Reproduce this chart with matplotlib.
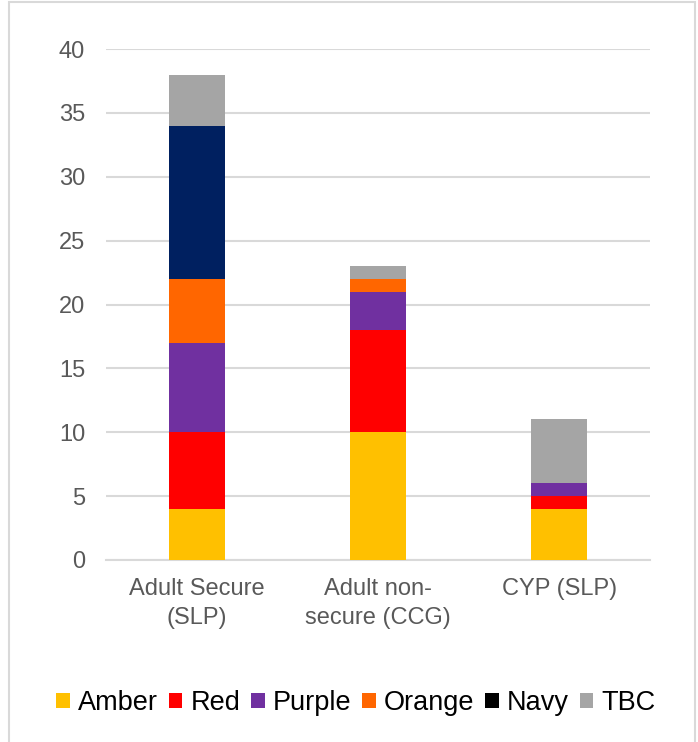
import numpy as np
import matplotlib
matplotlib.use("Agg")
import matplotlib.pyplot as plt
from matplotlib.patches import Rectangle, Patch

plt.rcParams['font.family'] = ['Liberation Sans', 'DejaVu Sans']

categories = ["Adult Secure\n(SLP)", "Adult non-\nsecure (CCG)", "CYP (SLP)"]
series = ["Amber", "Red", "Purple", "Orange", "Navy", "TBC"]
amber = [4, 10, 4]
red = [6, 8, 1]
purple = [7, 3, 1]
orange = [5, 1, 0]
navy = [12, 0, 0]
tbc = [4, 1, 5]
yticks = [0, 5, 10, 15, 20, 25, 30, 35, 40]

values = [amber, red, purple, orange, navy, tbc]
colors = ["#FFC000", "#FF0000", "#7030A0", "#FF6600", "#002060", "#A5A5A5"]
legend_colors = ["#FFC000", "#FF0000", "#7030A0", "#FF6600", "#000000", "#A5A5A5"]

fig = plt.figure(figsize=(6.98, 7.42), dpi=100)
ax = fig.add_axes([106/698, 1 - 560/742, (650 - 106)/698, (560 - 49)/742])

x = np.arange(len(categories))
bottom = np.zeros(len(categories))
for vals, c in zip(values, colors):
    ax.bar(x, vals, width=0.31, bottom=bottom, color=c, zorder=3)
    bottom += np.array(vals)

ax.set_xlim(-0.5, 2.5)
ax.set_ylim(0, 40)
ax.set_yticks(yticks)
ax.set_xticks(x)
ax.set_xticklabels(categories, linespacing=1.4)
ax.yaxis.grid(True, color="#D9D9D9", lw=1.5, zorder=0)
for s in ["top", "right", "left"]:
    ax.spines[s].set_visible(False)
ax.spines["bottom"].set_color("#D9D9D9")
ax.spines["bottom"].set_linewidth(1.5)
ax.tick_params(axis="both", length=0, colors="#595959", labelsize=17)
ax.tick_params(axis="y", pad=15)
ax.tick_params(axis="x", pad=13)

handles = [Patch(facecolor=c, edgecolor="none") for c in legend_colors]
fig.legend(handles, series, loc="center", bbox_to_anchor=(356/698, 1 - 703/742),
           ncol=6, frameon=False, fontsize=19.5, handlelength=0.5, handleheight=0.5,
           handletextpad=0.3, columnspacing=0.4)

# light frame round the chart area
fig.patches.append(Rectangle((9/698, -0.05), 686/698, 1.05 - 2/742, transform=fig.transFigure,
                             fill=False, edgecolor="#D9D9D9", lw=1.5))

fig.savefig("out.png", dpi=100)
